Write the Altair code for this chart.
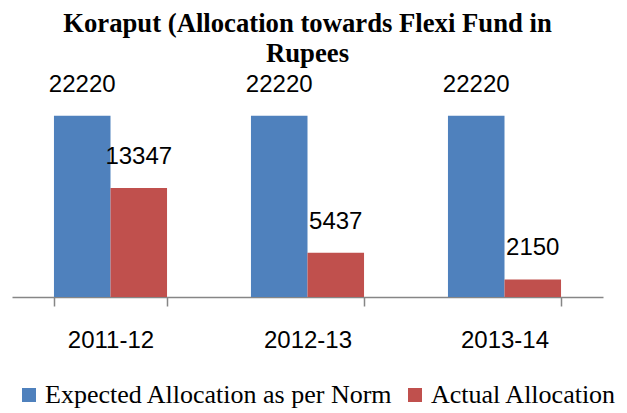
import altair as alt
import pandas as pd

years = ["2011-12", "2012-13", "2013-14"]
series = ["Expected Allocation as per Norm", "Actual Allocation"]
expected = [22220, 22220, 22220]
actual = [13347, 5437, 2150]
colors = ["#4F81BD", "#C0504D"]
title_lines = ["Koraput (Allocation towards Flexi Fund in", "Rupees"]

rows = []
for i, y in enumerate(years):
    rows.append({"year": y, "series": series[0], "value": expected[i]})
    rows.append({"year": y, "series": series[1], "value": actual[i]})
df = pd.DataFrame(rows)

x = alt.X("year:N", sort=years, title=None,
          scale=alt.Scale(paddingInner=0.426, paddingOuter=0.213),
          axis=alt.Axis(labelAngle=0, labelFont="Liberation Sans", labelFontSize=24,
                        labelColor="black", labelPadding=22, tickBand="extent",
                        tickSize=9, tickColor="#868686", domainColor="#868686",
                        domainWidth=1.5, tickWidth=1.5))
xo = alt.XOffset("series:N", sort=series)
y = alt.Y("value:Q", scale=alt.Scale(domain=[0, 25000]), axis=None)

bars = alt.Chart(df).mark_bar().encode(
    x=x, xOffset=xo, y=y,
    color=alt.Color("series:N", sort=series,
                    scale=alt.Scale(domain=series, range=colors),
                    legend=alt.Legend(title=None, orient="none", direction="horizontal",
                                      legendX=4, legendY=289, symbolType="square",
                                      symbolSize=196, symbolStrokeWidth=0,
                                      labelFont="Liberation Serif", labelFontSize=26,
                                      labelColor="black", labelOffset=3,
                                      columnPadding=9, labelLimit=500)),
)

labels = alt.Chart(df).mark_text(font="Liberation Sans", fontSize=24, color="black",
                                 baseline="bottom", dy=-19).encode(
    x=x, xOffset=xo, y=y, text="value:Q"
)

chart = (bars + labels).properties(
    width=591, height=204,
    title=alt.TitleParams(title_lines, font="Liberation Serif", fontSize=26.7,
                          fontWeight="bold", color="black", anchor="middle",
                          lineHeight=30, offset=5),
    autosize=alt.AutoSizeParams(type="none"),
    padding={"left": 4, "top": 85, "right": 16, "bottom": 112},
).configure_view(stroke=None)

chart.save("out.html", embed_options={"renderer": "svg", "actions": False})
